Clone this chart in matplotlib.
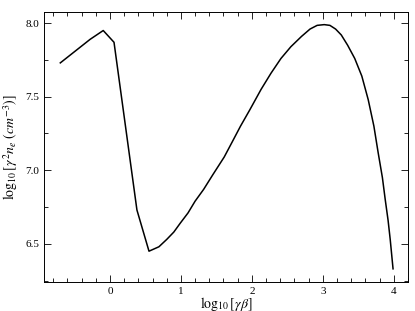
import matplotlib
matplotlib.use("Agg")
from matplotlib import pyplot as plt
from matplotlib.ticker import MultipleLocator, FormatStrFormatter

# log10(gamma*beta) and log10(gamma^2 n_e)
log_gb = [-0.70, -0.28, -0.095, 0.057, 0.21, 0.38, 0.55, 0.69, 0.80, 0.90,
          0.99, 1.10, 1.20, 1.32, 1.45, 1.61, 1.72, 1.84, 1.97, 2.13, 2.27,
          2.41, 2.55, 2.70, 2.82, 2.92, 3.02, 3.10, 3.18, 3.26, 3.35, 3.45,
          3.55, 3.64, 3.72, 3.78, 3.84, 3.88, 3.92, 3.95, 3.99]
log_ne = [7.73, 7.89, 7.95, 7.87, 7.33, 6.73, 6.45, 6.48, 6.53, 6.58,
          6.64, 6.71, 6.79, 6.87, 6.97, 7.09, 7.19, 7.30, 7.41, 7.55, 7.66,
          7.76, 7.84, 7.91, 7.96, 7.985, 7.99, 7.985, 7.96, 7.92, 7.85, 7.76,
          7.64, 7.48, 7.30, 7.12, 6.95, 6.80, 6.66, 6.53, 6.33]

plt.rcParams['font.family'] = 'Liberation Serif'
plt.rcParams['mathtext.fontset'] = 'stix'

fig = plt.figure(figsize=(4.15, 3.11), dpi=100)
ax = fig.add_axes([0.106, 0.093, 0.877, 0.868])
ax.plot(log_gb, log_ne, color='black', lw=1.1)

ax.set_xlim(-0.93, 4.2)
ax.set_ylim(6.24, 8.075)
ax.xaxis.set_major_locator(MultipleLocator(1))
ax.xaxis.set_minor_locator(MultipleLocator(0.2))
ax.yaxis.set_major_locator(MultipleLocator(0.5))
ax.yaxis.set_minor_locator(MultipleLocator(0.25))
ax.yaxis.set_major_formatter(FormatStrFormatter('%.1f'))
ax.tick_params(which='both', direction='in', top=True, right=True, labelsize=8, width=0.6)
ax.tick_params(which='major', length=5)
ax.tick_params(which='minor', length=3)
for s in ax.spines.values():
    s.set_linewidth(0.7)

ax.set_xlabel(r'$\log_{10}[\gamma\beta]$', fontsize=10, labelpad=-1)
ax.set_ylabel(r'$\log_{10}[\gamma^2 n_e\ (cm^{-3})]$', fontsize=10, labelpad=4)

fig.savefig('out.png', dpi=100)
